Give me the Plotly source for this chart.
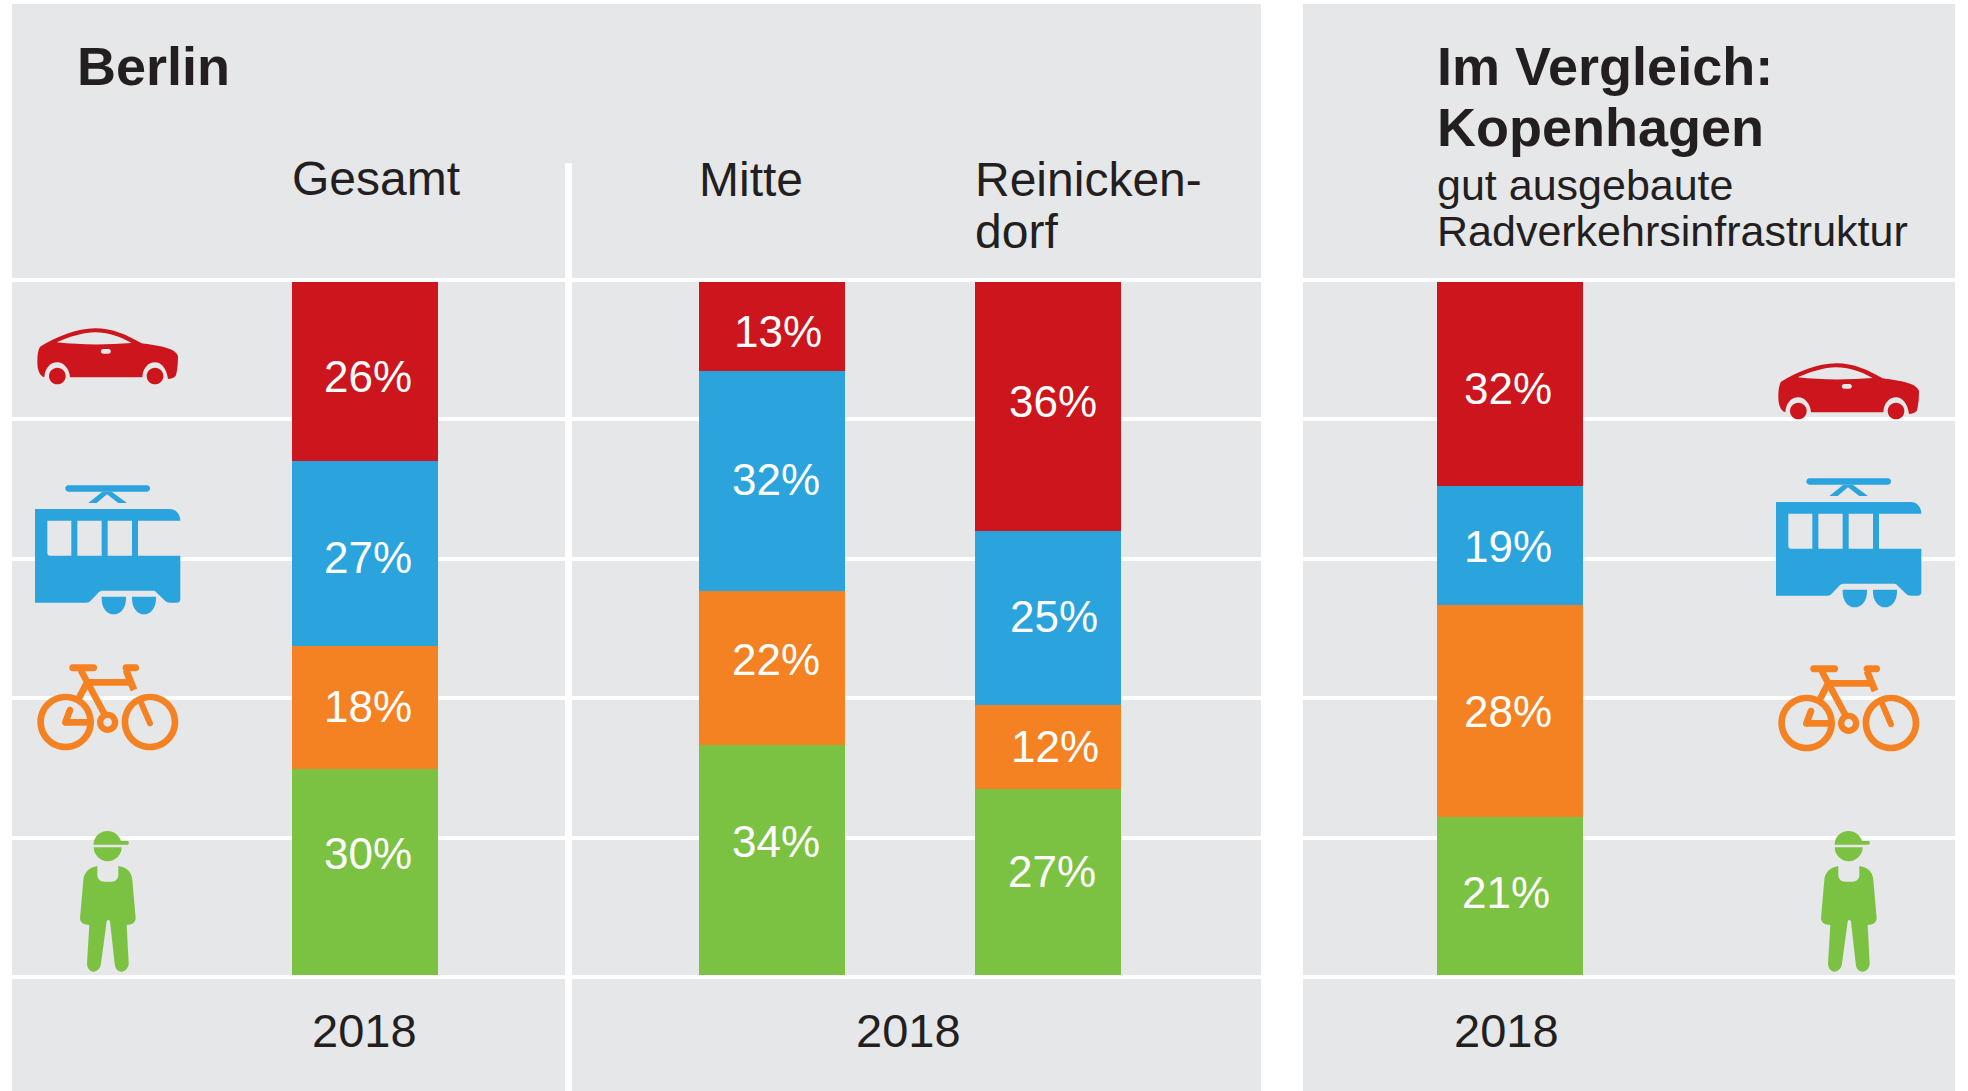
import re
import plotly.graph_objects as go

# ---------- data (shares, bottom to top; labels as printed) ----------
groups = ["Gesamt", "Mitte", "Reinickendorf", "Kopenhagen"]
walk_share = [29.8, 33.3, 26.9, 22.8]
bike_share = [17.8, 22.2, 12.1, 30.6]
tram_share = [26.7, 31.8, 25.1, 17.3]
car_share = [25.9, 12.9, 36.0, 29.4]
walk_labels = ["30%", "34%", "27%", "21%"]
bike_labels = ["18%", "22%", "12%", "28%"]
tram_labels = ["27%", "32%", "25%", "19%"]
car_labels = ["26%", "13%", "36%", "32%"]
year_label = "2018"

# ---------- layout and styles ----------
W, H = 1968, 1091
BAR_W = 146
bar_centers = [365, 772, 1048, 1510]
PX_PER_UNIT = 6.92
BASE_PY = 975
PANEL = "#e6e7e8"
INK = "#231f20"
RED, BLUE, ORANGE, GREEN = "#cc151c", "#2ba4de", "#f58222", "#7cc242"
FONT = "Liberation Sans"

# label offsets from the centre of each segment, in pixels (one row per group)
walk_shift = [(3, 18.5), (4, 18), (4, 10), (-4, 4)]
bike_shift = [(3, 1), (4, 8), (7, 0), (-2, 0)]
tram_shift = [(3, -4.5), (4, 1), (6, 2), (-2, -1)]
car_shift = [(3, -5.5), (6, -5), (5, 5), (-2, -4)]

fig = go.Figure()
series = [
    ("Zu Fuß", walk_share, walk_labels, walk_shift, GREEN),
    ("Fahrrad", bike_share, bike_labels, bike_shift, ORANGE),
    ("ÖPNV", tram_share, tram_labels, tram_shift, BLUE),
    ("Auto", car_share, car_labels, car_shift, RED),
]
for name, vals, _, _, col in series:
    fig.add_bar(x=bar_centers, y=vals, width=BAR_W, name=name, customdata=groups,
                marker=dict(color=col, line=dict(width=0)), showlegend=False,
                hovertemplate="%{customdata}: %{y}<extra>" + name + "</extra>")

annotations = []
def text(s, x, y, size, color=INK, bold=False, anchor="left"):
    annotations.append(dict(text=f"<b>{s}</b>" if bold else s, x=x, y=y, xref="x", yref="y2",
                            xanchor=anchor, yanchor="middle", showarrow=False,
                            font=dict(family=FONT, size=size, color=color)))

# value labels placed from the stacked bar scale
stack = [0] * len(groups)
for _, vals, labels, shifts, _ in series:
    for i, v in enumerate(vals):
        annotations.append(dict(text=labels[i], x=bar_centers[i], y=stack[i] + v / 2,
                                xref="x", yref="y", xshift=shifts[i][0], yshift=shifts[i][1],
                                xanchor="center", yanchor="middle", showarrow=False,
                                font=dict(family=FONT, size=44, color="white")))
        stack[i] += v

text("Berlin", 74.5, 66, 54, bold=True)
text("Gesamt", 290, 178, 48)
text("Mitte", 697, 179, 48)
text("Reinicken-", 973, 179, 48)
text("dorf", 973, 231, 48)
text("Im Vergleich:", 1435, 66, 54, bold=True)
text("Kopenhagen", 1435, 127, 54, bold=True)
text("gut ausgebaute", 1435, 185, 43)
text("Radverkehrsinfrastruktur", 1435, 231, 43)
for cx in [364, 908, 1506]:
    text(year_label, cx, 1030, 47, anchor="center")

# ---------- panels ----------
shapes = []
def rect(x0, y0, x1, y1, col):
    shapes.append(dict(type="rect", xref="x", yref="y2", x0=x0, y0=y0, x1=x1, y1=y1,
                       fillcolor=col, line=dict(width=0), layer="below"))

rect(12, 4, 1261, H, PANEL)
rect(1303, 4, 1955, H, PANEL)
for ly in [280, 419, 559, 698, 838, 977]:
    rect(12, ly - 2, 1955, ly + 2, "white")
rect(1261, 0, 1303, H, "white")
rect(565, 163, 572, H, "white")

# ---------- icons (decorative glyphs, page pixel geometry) ----------
def circle(cx, cy, r):
    k = 0.5523 * r
    return (f"M{cx-r},{cy} C{cx-r},{cy-k} {cx-k},{cy-r} {cx},{cy-r} "
            f"C{cx+k},{cy-r} {cx+r},{cy-k} {cx+r},{cy} "
            f"C{cx+r},{cy+k} {cx+k},{cy+r} {cx},{cy+r} "
            f"C{cx-k},{cy+r} {cx-r},{cy+k} {cx-r},{cy} Z ")

def stick(x1, y1, x2, y2, w, round_end=True):
    dx, dy = x2 - x1, y2 - y1
    n = (dx * dx + dy * dy) ** 0.5
    ux, uy = dx / n, dy / n
    nx, ny = -uy * w / 2, ux * w / 2
    e = w * 0.66 if round_end else 0
    return (f"M{x1+nx},{y1+ny} L{x2+nx},{y2+ny} "
            f"C{x2+nx+ux*e},{y2+ny+uy*e} {x2-nx+ux*e},{y2-ny+uy*e} {x2-nx},{y2-ny} "
            f"L{x1-nx},{y1-ny} "
            f"C{x1-nx-ux*e},{y1-ny-uy*e} {x1+nx-ux*e},{y1+ny-uy*e} {x1+nx},{y1+ny} Z")

def place(path, ox, oy, col, dx=0, dy=0):
    def conv(m):
        return f"{ox + float(m.group(1)) / 3 + dx:.2f},{oy + float(m.group(2)) / 3 + dy:.2f}"
    p = re.sub(r"(-?[\d.]+),(-?[\d.]+)", conv, path)
    shapes.append(dict(type="path", xref="x", yref="y2", path=p, fillcolor=col,
                       line=dict(width=0), layer="above"))

car = [
    "M120,200 C170,170 230,145 285,145 C340,145 380,165 425,190 C470,197 525,202 534,228 "
    "C534,250 532,275 527,288 C520,295 512,297 504,297 C500,265 483,247 465,247 "
    "C445,247 428,265 427,292 L210,292 C208,265 190,247 172,247 C150,247 135,265 133,292 "
    "C118,285 112,270 112,245 C112,225 114,210 120,200 Z "
    "M170,187 C210,170 250,157 285,157 C325,157 360,170 395,189 C320,195 240,195 170,187 Z "
    "M310,207 L325,207 C335,207 335,221 325,221 L310,221 C300,221 300,207 310,207 Z",
    circle(172, 288, 25),
    circle(465, 288, 25),
]
tram = [
    "M205,616 L441,616 C453,616 453,635 441,635 L205,635 C193,635 193,616 205,616 Z",
    "M307,635 L335,635 L381,669 L355,669 L321,643 L290,669 L265,669 Z",
    "M105,687 L510,687 C528,687 541,703 541,722 L414,722 L414,827 L541,827 L541,958 "
    "C541,965 537,968 530,968 L510,968 C503,968 499,966 495,962 L470,938 C467,934 463,932 458,932 "
    "L310,932 C303,932 299,934 295,938 L272,962 C269,966 265,968 258,968 L105,968 Z "
    "M142,722 L214,722 L214,827 L150,827 C145,827 142,824 142,819 Z "
    "M232,722 L305,722 L305,827 L232,827 Z M323,722 L396,722 L396,827 L323,827 Z",
    "M305,950 L378,950 C380,985 360,1003 341,1003 C322,1003 303,985 305,950 Z",
    "M396,950 L468,950 C470,985 450,1003 432,1003 C414,1003 394,985 396,950 Z",
]
bike = [
    circle(137, 216, 85) + circle(137, 216, 65),
    circle(390, 216, 85) + circle(390, 216, 65),
    circle(263, 217, 32) + circle(263, 217, 13),
    stick(158, 53, 221, 53, 21),
    stick(318, 53, 347, 53, 21),
    stick(182, 60, 255, 195, 20, False),
    stick(195, 97, 335, 97, 20, False),
    stick(318, 60, 342, 120, 21, False),
    stick(200, 100, 176, 146, 20, False),
    stick(150, 180, 136, 217, 20),
    stick(136, 217, 212, 217, 20, False),
    stick(362, 155, 390, 220, 18),
]
person = [
    "M101,73 C101,50 120,33 143,33 C163,33 178,47 183,63 L202,63 C208,63 208,74 202,74 L101,74 Z",
    "M101,82 L185,82 C185,105 165,124 143,124 C121,124 101,105 101,82 Z",
    "M112,138 L112,165 C112,178 122,185 132,185 L155,185 C165,185 175,178 175,165 L175,138 "
    "C200,142 215,155 217,180 L227,295 C227,308 215,315 200,315 L206,430 C206,445 195,455 185,455 "
    "C172,455 165,445 164,430 L150,305 C149,298 141,298 140,305 L123,430 C122,445 112,455 100,455 "
    "C90,455 81,445 81,430 L88,315 C72,315 60,308 60,295 L70,180 C72,155 90,142 112,138 Z",
]
icons = [
    (car, 0, 280, RED, 35),
    (tram, 0, 280, BLUE, -7),
    (bike, 20, 650, ORANGE, 1),
    (person, 60, 820, GREEN, 0),
]
for parts, ox, oy, col, right_dy in icons:
    for part in parts:
        place(part, ox, oy, col)
        place(part, ox, oy, col, dx=1741, dy=right_dy)

fig.update_layout(
    width=W, height=H, margin=dict(l=0, r=0, t=0, b=0, pad=0),
    paper_bgcolor="white", plot_bgcolor="rgba(0,0,0,0)",
    barmode="stack", bargap=0, showlegend=False,
    xaxis=dict(range=[0, W], visible=False, fixedrange=True),
    yaxis=dict(range=[(BASE_PY - H) / PX_PER_UNIT, BASE_PY / PX_PER_UNIT], visible=False, fixedrange=True),
    yaxis2=dict(range=[H, 0], overlaying="y", visible=False, fixedrange=True),
    shapes=shapes, annotations=annotations,
)
fig.write_html("out.html", config=dict(displayModeBar=False),
               post_script="document.body.style.margin='0';document.body.style.overflow='hidden';")
